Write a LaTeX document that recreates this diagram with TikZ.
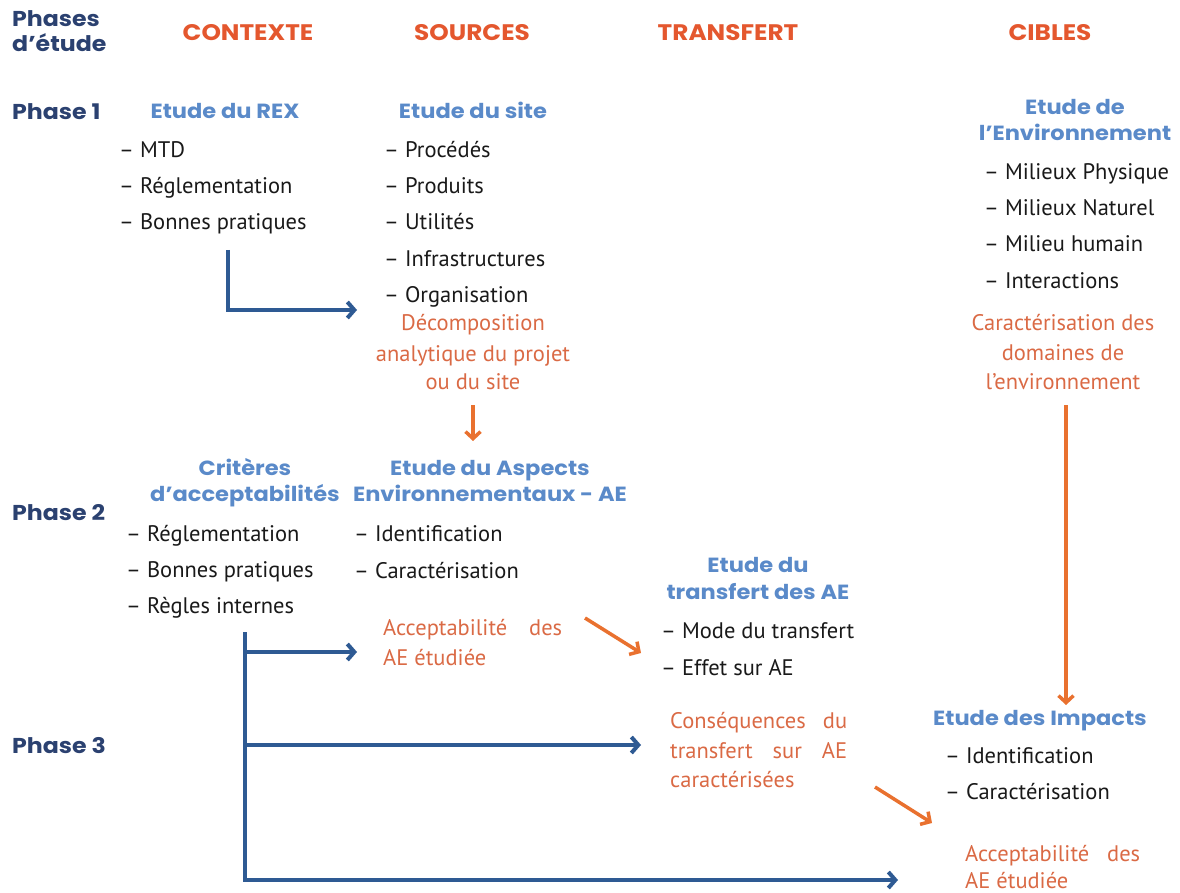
\documentclass[tikz,border=0pt]{standalone}
\usepackage{fontspec}
\setmainfont{PT Sans}
\newfontfamily\hd{Poppins}[FakeStretch=1.1]
\usetikzlibrary{arrows.meta}
\definecolor{navy}{HTML}{2B4170}
\definecolor{horange}{HTML}{E4572E}
\definecolor{tblue}{HTML}{5A8AC9}
\definecolor{borange}{HTML}{DA6A45}
\definecolor{ablue}{HTML}{2E5A93}
\definecolor{aorange}{HTML}{E9712F}
\begin{document}
\begin{tikzpicture}[x=1pt,y=-1pt,
  phase/.style={font=\hd\bfseries\fontsize{21.5}{24}\selectfont, text=navy, inner sep=0, anchor=base west},
  colhd/.style={font=\hd\bfseries\fontsize{22.5}{24}\selectfont, text=horange, inner sep=0, anchor=base},
  ttl/.style={font=\hd\bfseries\fontsize{20.5}{24}\selectfont, text=tblue, inner sep=0, anchor=base},
  itm/.style={font=\fontsize{22.5}{24}\selectfont, text=black!90, inner sep=0, anchor=base west},
  otxt/.style={font=\fontsize{22.5}{24}\selectfont, text=borange, inner sep=0, anchor=base},
  otxtl/.style={otxt, anchor=base west},
  barr/.style={draw=ablue, line width=4pt, line join=miter, -{Straight Barb[length=7pt,width=16pt]}},
  oarr/.style={draw=aorange, line width=3.5pt, -{Straight Barb[length=7pt,width=15pt]}}]
\useasboundingbox (0,0) rectangle (1180,893);

% column headings
\node[phase] (ph0a) at (12,27) {Phases};
\node[phase] (ph0b) at (12,52) {d’étude};
\node[colhd] (hctx) at (248,41) {CONTEXTE};
\node[colhd] (hsrc) at (472,41) {SOURCES};
\node[colhd] (htr) at (728,41) {TRANSFERT};
\node[colhd] (hcib) at (1050,41) {CIBLES};

% phases
\node[phase] (ph1) at (12,120) {Phase 1};
\node[phase] (ph2) at (12,520) {Phase 2};
\node[phase] (ph3) at (12,753) {Phase 3};

% Etude du REX
\node[ttl] (rex) at (225,119) {Etude du REX};
\foreach \t [count=\i] in {MTD, Réglementation, Bonnes pratiques}
  \node[itm] (rex\i) at (119,{158+36*(\i-1)}) {– \t};

% Etude du site
\node[ttl] (site) at (473,119) {Etude du site};
\foreach \t [count=\i] in {Procédés, Produits, Utilités, Infrastructures, Organisation}
  \node[itm] (site\i) at (384,{158+36*(\i-1)}) {– \t};
\node[otxt] (dec1) at (473,330) {Décomposition};
\node[otxt] (dec2) at (473,361) {analytique du projet};
\node[otxt] (dec3) at (473,389) {ou du site};

% Etude de l'Environnement
\node[ttl] (env1) at (1075,115) {Etude de};
\node[ttl] (env2) at (1075,141) {l’Environnement};
\foreach \t [count=\i] in {Milieux Physique, Milieux Naturel, Milieu humain, Interactions}
  \node[itm] (envi\i) at (984,{180+36*(\i-1)}) {– \t};
\node[otxt] (car1) at (1063,330) {Caractérisation des};
\node[otxt] (car2) at (1063,360) {domaines de};
\node[otxt] (car3) at (1063,389) {l’environnement};

% Criteres
\node[ttl] (crit1) at (245,475) {Critères};
\node[ttl] (crit2) at (245,501) {d’acceptabilités};
\foreach \t [count=\i] in {Réglementation, Bonnes pratiques, Règles internes}
  \node[itm] (crit\i i) at (126,{541+36*(\i-1)}) {– \t};

% Aspects
\node[ttl] (asp1) at (490,475) {Etude du Aspects};
\node[ttl] (asp2) at (490,501) {Environnementaux - AE};
\node[itm] (aspi1) at (354,541) {– Identification};
\node[itm] (aspi2) at (354,578) {– Caractérisation};
\node[otxtl] (acc1) at (383,635) {\makebox[179pt][s]{Acceptabilité des}};
\node[otxtl] (acc2) at (383,665) {AE étudiée};

% Transfert
\node[ttl] (tr1) at (758,572) {Etude du};
\node[ttl] (tr2) at (758,599) {transfert des AE};
\node[itm] (tri1) at (661,638) {– Mode du transfert};
\node[itm] (tri2) at (661,675) {– Effet sur AE};
\node[otxtl] (cons1) at (670,728) {\makebox[177pt][s]{Conséquences du}};
\node[otxtl] (cons2) at (670,758) {\makebox[177pt][s]{transfert sur AE}};
\node[otxtl] (cons3) at (670,787) {caractérisées};

% Impacts
\node[ttl] (imp) at (1040,725) {Etude des Impacts};
\node[itm] (impi1) at (945,763) {– Identification};
\node[itm] (impi2) at (945,799) {– Caractérisation};
\node[otxtl] (acc3) at (965,861) {\makebox[175pt][s]{Acceptabilité des}};
\node[otxtl] (acc4) at (965,888) {AE étudiée};

% connector end points
\coordinate (b1s) at (228,250);
\coordinate (b1e) at (357,310);
\coordinate (o1s) at (473,405);
\coordinate (o1e) at (473,441);
\coordinate (o2s) at (1066,405);
\coordinate (o2e) at (1066,705);
\coordinate (o3s) at (585,618);
\coordinate (o3e) at (641,653);
\coordinate (o4s) at (875,787);
\coordinate (o4e) at (932,823);
\coordinate (t0) at (245,632);
\coordinate (t1) at (245,652);
\coordinate (t2) at (245,745);
\coordinate (t3) at (245,880);
\coordinate (e1) at (357,652);
\coordinate (e2) at (641,745);
\coordinate (e3) at (898,880);

% connectors
\draw[barr] (b1s) |- (b1e);
\draw[oarr] (o1s) -- (o1e);
\draw[oarr] (o2s) -- (o2e);
\draw[oarr] (o3s) -- (o3e);
\draw[oarr] (o4s) -- (o4e);
\draw[barr] (t0) -- (t3) -- (e3);
\draw[barr] (t1) -- (e1);
\draw[barr] (t2) -- (e2);
\end{tikzpicture}
\end{document}
